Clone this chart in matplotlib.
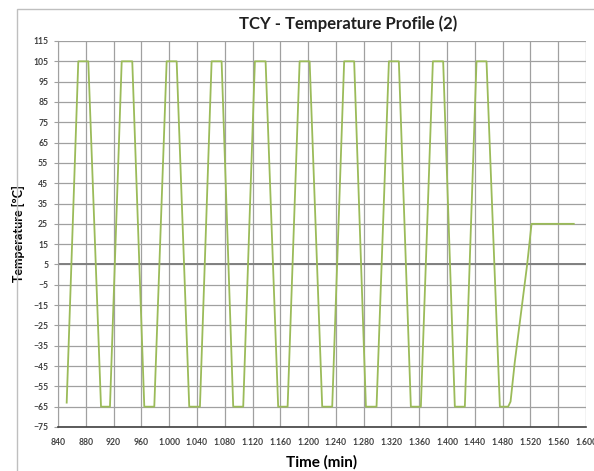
import matplotlib
matplotlib.use("Agg")
import matplotlib.pyplot as plt
from matplotlib.patches import Rectangle
import numpy as np

plt.rcParams['font.family'] = ['Lato', 'DejaVu Sans']

# temperature profile (time in min, temperature in ºC)
time_min = [852.5, 869.2, 883.6, 901.9, 914.8, 931.7, 946.9, 964.2, 978.6,
            996.4, 1010.8, 1028.9, 1044.3, 1061.1, 1075.5, 1092.2, 1106.6,
            1123.4, 1138.8, 1156.9, 1170.5, 1187.8, 1202.2, 1220.3, 1234.7,
            1251.9, 1266.3, 1283.2, 1298.5, 1316.3, 1330.6, 1347.9, 1362.3,
            1379.6, 1394.4, 1411.2, 1425.6, 1442.4, 1456.8, 1476.0, 1487.9,
            1491.4, 1497.5, 1515.3, 1521.6, 1582.4]
temp_c = [-63, 105, 105, -65, -65, 105, 105, -65, -65,
          105, 105, -65, -65, 105, 105, -65, -65,
          105, 105, -65, -65, 105, 105, -65, -65,
          105, 105, -65, -65, 105, 105, -65, -65,
          105, 105, -65, -65, 105, 105, -65, -65,
          -62.5, -43, 5, 25, 25]

x_ticks = list(range(840, 1601, 40))
y_ticks = list(range(-75, 116, 10))


def fmt_thousands(v):
    # excel style with dot as thousands separator
    return f"{v:,}".replace(",", ".")


fig = plt.figure(figsize=(5.94, 4.71), dpi=100)
ax = fig.add_axes([58 / 594, 1 - 427 / 471, 528 / 594, 386 / 471])

# light chart border (chart area runs past the right/bottom edge)
fig.patches.append(Rectangle((17 / 594, -0.05), 1.1, 1 - 9 / 471 + 0.05,
                             transform=fig.transFigure, fill=False,
                             edgecolor='#bfbfbf', linewidth=1.0))

ax.set_xlim(840, 1600)
ax.set_ylim(-75, 115)
ax.set_xticks(x_ticks)
ax.set_xticklabels([fmt_thousands(v) for v in x_ticks])
ax.set_yticks(y_ticks)

ax.grid(True, color='#a0a0a0', linewidth=0.9)
ax.set_axisbelow(True)
ax.axhline(5, color='#808080', linewidth=1.4, zorder=1)

ax.plot(time_min, temp_c, color='#9bbb59', linewidth=1.3, zorder=3)

for side in ['top', 'right']:
    ax.spines[side].set_visible(False)
ax.spines['left'].set_color('#a0a0a0')
ax.spines['bottom'].set_color('#404040')
ax.spines['bottom'].set_linewidth(1.2)

ax.tick_params(axis='x', length=0, pad=8, labelsize=6.2, labelcolor='#404040')
ax.tick_params(axis='y', length=3, color='#a0a0a0', pad=4, labelsize=6.2,
               labelcolor='#404040')
for lab in ax.get_xticklabels() + ax.get_yticklabels():
    lab.set_fontweight('bold')

# title is centred on the whole chart area, which is wider than the picture
fig.text(348 / 594, 1 - 24 / 471, 'TCY - Temperature Profile (2)',
         fontsize=12, fontweight='bold', ha='center', va='center',
         color='#202020')
ax.set_xlabel('Time (min)', fontsize=11, fontweight='bold', labelpad=6)
ax.set_ylabel('Temperature [ºC]', fontsize=9, fontweight='bold', labelpad=6)

fig.savefig('out.png', dpi=100)
